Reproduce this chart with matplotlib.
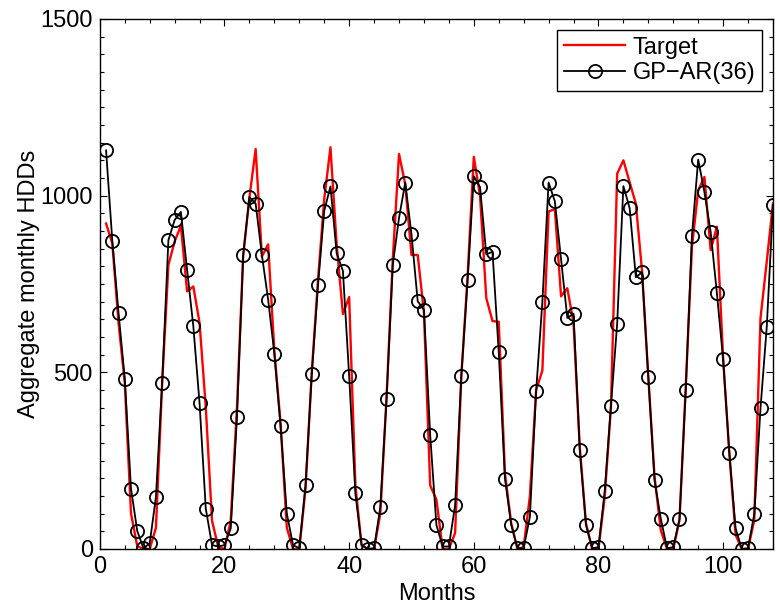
import numpy as np
import matplotlib
matplotlib.use("Agg")
import matplotlib.pyplot as plt
from matplotlib.ticker import MultipleLocator

# --- data ---
months = list(range(1, 109))

target = [921, 865, 640, 470, 100, 8, 0, 0, 60, 470,
          804, 870, 915, 729, 743, 640, 400, 80, 5, 0,
          80, 400, 830, 995, 1132, 828, 862, 560, 355, 60,
          0, 0, 170, 500, 760, 990, 1137, 860, 665, 713,
          180, 10, 0, 0, 100, 430, 820, 1118, 1032, 832,
          832, 670, 180, 140, 0, 0, 45, 490, 770, 1110,
          1000, 710, 645, 643, 213, 73, 0, 5, 150, 450,
          505, 955, 962, 715, 738, 640, 288, 72, 0, 0,
          147, 400, 1062, 1100, 1038, 977, 785, 485, 204, 53,
          0, 0, 82, 457, 855, 1015, 1053, 846, 912, 540,
          270, 40, 0, 0, 82, 654, 813, 978]

gp_ar = [1128, 872, 668, 482, 171, 51, 2, 16, 147, 471,
         874, 931, 954, 790, 630, 412, 114, 11, 7, 11,
         58, 373, 832, 996, 977, 832, 706, 553, 347, 100,
         11, 2, 180, 494, 746, 957, 1026, 837, 787, 490,
         157, 11, 0, 2, 119, 424, 804, 937, 1037, 891,
         701, 677, 323, 68, 7, 7, 124, 490, 760, 1055,
         1024, 834, 841, 557, 199, 69, 2, 2, 91, 447,
         699, 1037, 984, 820, 654, 666, 281, 68, 2, 5,
         163, 405, 637, 1027, 965, 769, 783, 487, 194, 86,
         2, 5, 84, 449, 887, 1102, 1010, 898, 724, 537,
         271, 58, 0, 2, 99, 399, 628, 973]

x_ticks = [0, 20, 40, 60, 80, 100]
y_ticks = [0, 500, 1000, 1500]


def main():
    plt.rcParams['font.family'] = ['Liberation Sans', 'DejaVu Sans']
    plt.rcParams['font.size'] = 17

    fig = plt.figure(figsize=(7.8, 6.12), dpi=100)
    ax = fig.add_axes([0.128, 0.103, 0.863, 0.866])

    ax.plot(months, target, color='red', linewidth=1.7, label='Target')
    ax.plot(months, gp_ar, color='black', linewidth=1.3, marker='o',
            markersize=9.5, markerfacecolor='none', markeredgecolor='black',
            markeredgewidth=1.3, label='GP\u2212AR(36)')

    ax.set_xlim(0, 108)
    ax.set_ylim(0, 1500)
    ax.set_xticks(x_ticks)
    ax.set_yticks(y_ticks)
    ax.xaxis.set_minor_locator(MultipleLocator(4))
    ax.yaxis.set_minor_locator(MultipleLocator(50))
    ax.tick_params(which='both', direction='in', top=True, right=True,
                   width=0.8, labelsize=17)
    ax.tick_params(which='major', length=5, pad=5)
    ax.tick_params(which='minor', length=3)
    for s in ax.spines.values():
        s.set_linewidth(1.0)

    ax.set_xlabel('Months', fontsize=17, labelpad=4)
    ax.set_ylabel('Aggregate monthly HDDs', fontsize=17, labelpad=0)

    leg = ax.legend(loc='upper right', fontsize=17, handlelength=2.6,
                    fancybox=False, framealpha=1, edgecolor='black',
                    borderpad=0.3, labelspacing=0.15, handletextpad=0.3,
                    borderaxespad=0.45)
    leg.get_frame().set_linewidth(1.0)

    fig.savefig('out.png', dpi=100)


if __name__ == "__main__":
    main()
